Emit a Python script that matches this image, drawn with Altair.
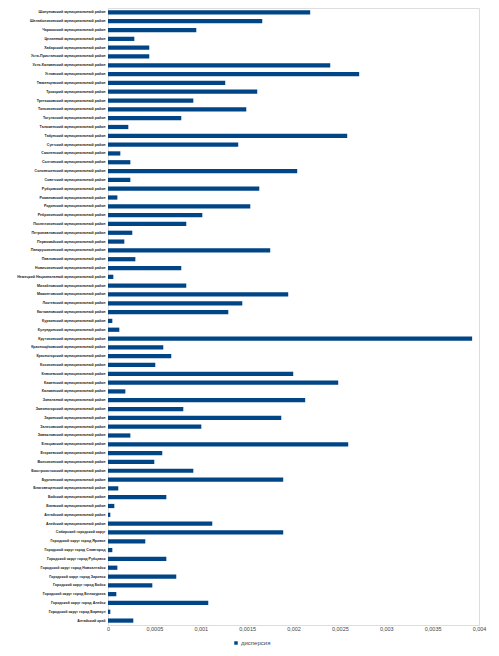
import altair as alt
import pandas as pd

categories = [
    "Шипуновский муниципальный район",
    "Шелаболихинский муниципальный район",
    "Чарышский муниципальный район",
    "Целинный муниципальный район",
    "Хабарский муниципальный район",
    "Усть-Пристанский муниципальный район",
    "Усть-Калманский муниципальный район",
    "Угловский муниципальный район",
    "Тюменцевский муниципальный район",
    "Троицкий муниципальный район",
    "Третьяковский муниципальный район",
    "Топчихинский муниципальный район",
    "Тогульский муниципальный район",
    "Тальменский муниципальный район",
    "Табунский муниципальный район",
    "Суетский муниципальный район",
    "Смоленский муниципальный район",
    "Солтонский муниципальный район",
    "Солонешенский муниципальный район",
    "Советский муниципальный район",
    "Рубцовский муниципальный район",
    "Романовский муниципальный район",
    "Родинский муниципальный район",
    "Ребрихинский муниципальный район",
    "Поспелихинский муниципальный район",
    "Петропавловский муниципальный район",
    "Первомайский муниципальный район",
    "Панкрушихинский муниципальный район",
    "Павловский муниципальный район",
    "Новичихинский муниципальный район",
    "Немецкий Национальный муниципальный район",
    "Михайловский муниципальный район",
    "Мамонтовский муниципальный район",
    "Локтевский муниципальный район",
    "Кытмановский муниципальный район",
    "Курьинский муниципальный район",
    "Кулундинский муниципальный район",
    "Крутихинский муниципальный район",
    "Краснощёковский муниципальный район",
    "Красногорский муниципальный район",
    "Косихинский муниципальный район",
    "Ключевский муниципальный район",
    "Каменский муниципальный район",
    "Калманский муниципальный район",
    "Зональный муниципальный район",
    "Змеиногорский муниципальный район",
    "Заринский муниципальный район",
    "Залесовский муниципальный район",
    "Завьяловский муниципальный район",
    "Ельцовский муниципальный район",
    "Егорьевский муниципальный район",
    "Волчихинский муниципальный район",
    "Быстроистокский муниципальный район",
    "Бурлинский муниципальный район",
    "Благовещенский муниципальный район",
    "Бийский муниципальный район",
    "Баевский муниципальный район",
    "Алтайский муниципальный район",
    "Алейский муниципальный район",
    "Сибирский городской округ",
    "Городской округ город Яровое",
    "Городской округ город Славгород",
    "Городской округ город Рубцовск",
    "Городской округ город Новоалтайск",
    "Городской округ город Заринск",
    "Городской округ город Бийск",
    "Городской округ город Белокуриха",
    "Городской округ город Алейск",
    "Городской округ город Барнаул",
    "Алтайский край",
]

dispersion = [
    0.00218, 0.001663, 0.000952, 0.000284, 0.000445, 0.000445, 0.002396,
    0.002708, 0.001264, 0.001609, 0.00092, 0.001491, 0.00079, 0.000219,
    0.002579, 0.001404, 0.000133, 0.000241, 0.00204, 0.000241, 0.001631,
    0.000101, 0.001534, 0.001017, 0.000844, 0.000262, 0.000176, 0.001749,
    0.000295, 0.00079, 0.0000575, 0.000844, 0.001943, 0.001448, 0.001297,
    0.0000467, 0.000122, 0.003926, 0.000596, 0.000682, 0.00051, 0.001997,
    0.002482, 0.000187, 0.002126, 0.000812, 0.001868, 0.001006, 0.000241,
    0.00259, 0.000585, 0.000499, 0.00092, 0.001889, 0.000111, 0.000629,
    0.0000682, 0.0000251, 0.001124, 0.001889, 0.000402, 0.0000467, 0.000629,
    0.000101, 0.000736, 0.000478, 0.0000898, 0.001081, 0.0000251, 0.000273,
]

series_name = "дисперсия"
x_ticks = [0, 0.0005, 0.001, 0.0015, 0.002, 0.0025, 0.003, 0.0035, 0.004]

df = pd.DataFrame({
    "region": categories,
    "value": dispersion,
    "series": [series_name] * len(categories),
})

FONT = "Liberation Sans"

chart = (
    alt.Chart(df)
    .mark_bar(color="#004586")
    .encode(
        y=alt.Y(
            "region:N",
            sort=None,
            title=None,
            scale=alt.Scale(paddingInner=0.52, paddingOuter=0.26),
            axis=alt.Axis(
                domain=False,
                ticks=False,
                labelFontSize=3.6,
                labelFont=FONT,
                labelFontWeight="bold",
                labelColor="#222222",
                labelPadding=3,
                labelLimit=200,
                labelOverlap=False,
            ),
        ),
        x=alt.X(
            "value:Q",
            title=None,
            scale=alt.Scale(domain=[0, 0.004], nice=False),
            axis=alt.Axis(
                values=x_ticks,
                domain=False,
                ticks=False,
                grid=False,
                labelFontSize=5.5,
                labelFont=FONT,
                labelColor="#444444",
                labelPadding=1,
                labelFlush=False,
                labelExpr="replace(format(datum.value, '~g'), '.', ',')",
            ),
        ),
        color=alt.Color(
            "series:N",
            scale=alt.Scale(range=["#004586"]),
            legend=alt.Legend(
                title=None,
                orient="none",
                legendX=125,
                legendY=632,
                symbolType="square",
                symbolSize=12,
                symbolStrokeWidth=0,
                labelFontSize=6,
                labelFont=FONT,
                labelColor="#444444",
                labelOffset=2,
            ),
        ),
    )
    .properties(
        width=371,
        height=617,
        autosize="none",
        padding={"left": 100, "top": 0, "right": 12, "bottom": 22},
    )
    .configure_view(stroke=None)
    .configure(background="white")
)

chart.save("out.html", embed_options={"renderer": "svg", "actions": False})
